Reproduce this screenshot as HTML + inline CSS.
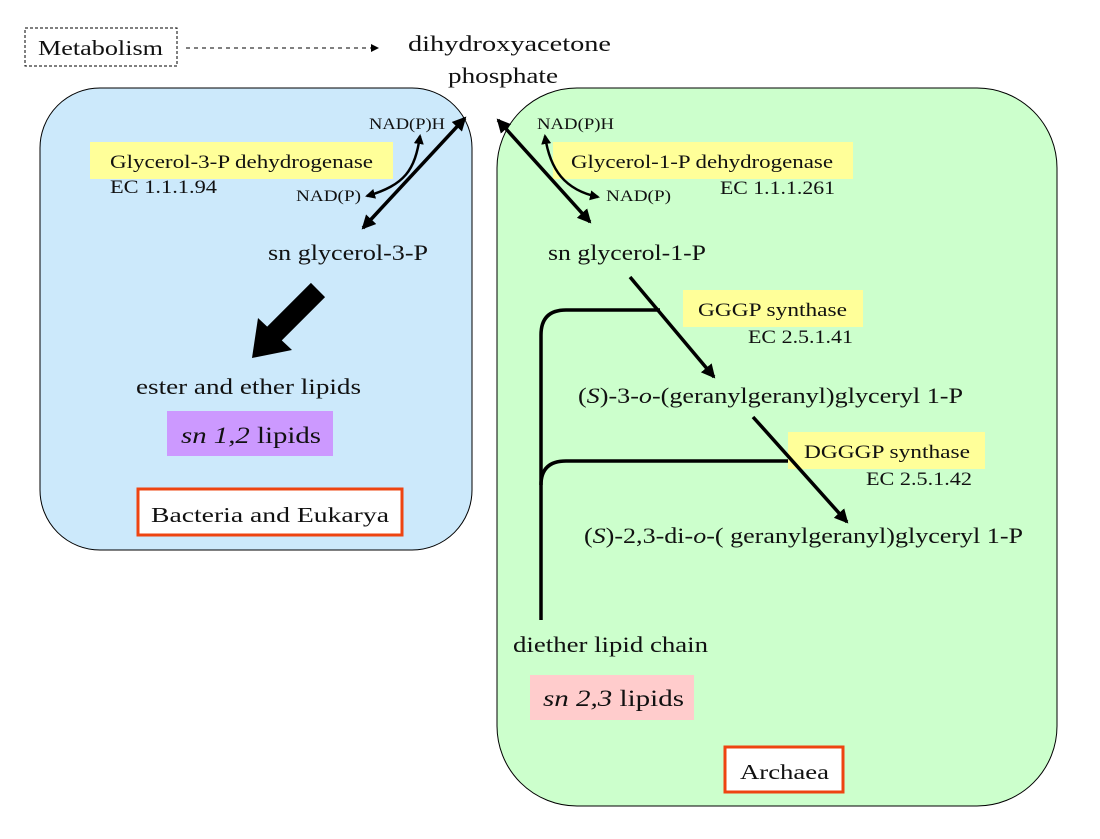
<!DOCTYPE html>
<html><head><meta charset="utf-8"><style>
body{margin:0;background:#fff}
svg{display:block}
text{font-family:"Liberation Serif",serif;fill:#111}
</style></head><body>
<svg width="1100" height="839" viewBox="0 0 1100 839" xmlns="http://www.w3.org/2000/svg">
<defs>
<marker id="a" markerWidth="10" markerHeight="10" refX="8" refY="5" orient="auto-start-reverse" markerUnits="userSpaceOnUse"><path d="M0,0 L10,5 L0,10 z" fill="#000"/></marker>
<marker id="b" markerWidth="14" markerHeight="14" refX="12" refY="7" orient="auto-start-reverse" markerUnits="userSpaceOnUse"><path d="M0,0 L14,7 L0,14 z" fill="#000"/></marker>
<marker id="s" markerWidth="8" markerHeight="8" refX="7" refY="4" orient="auto" markerUnits="userSpaceOnUse"><path d="M0,0 L8,4 L0,8 z" fill="#000"/></marker>
</defs>
<rect x="40" y="88" width="432" height="462" rx="60" fill="#cce9fb" stroke="#000" stroke-width="1"/>
<rect x="497" y="88" width="560" height="718" rx="80" fill="#ccffcc" stroke="#000" stroke-width="1"/>

<rect x="25" y="28" width="152" height="38" fill="#fff" stroke="#000" stroke-dasharray="3,2"/>
<text x="38" y="55" font-size="21" textLength="125" lengthAdjust="spacingAndGlyphs">Metabolism</text>
<line x1="186" y1="48" x2="378" y2="48" stroke="#000" stroke-dasharray="4,4" marker-end="url(#s)"/>
<text x="408" y="51" font-size="22" textLength="203" lengthAdjust="spacingAndGlyphs">dihydroxyacetone</text>
<text x="448" y="83" font-size="22" textLength="110" lengthAdjust="spacingAndGlyphs">phosphate</text>

<rect x="90" y="142" width="303" height="37" fill="#ffff99"/>
<text x="110" y="168" font-size="19" textLength="263" lengthAdjust="spacingAndGlyphs">Glycerol-3-P dehydrogenase</text>
<text x="110" y="193" font-size="19" textLength="107" lengthAdjust="spacingAndGlyphs">EC 1.1.1.94</text>
<text x="369" y="129" font-size="16" textLength="76" lengthAdjust="spacingAndGlyphs">NAD(P)H</text>
<text x="296" y="201" font-size="16" textLength="65" lengthAdjust="spacingAndGlyphs">NAD(P)</text>
<line x1="363" y1="228" x2="465" y2="118" stroke="#000" stroke-width="3.5" marker-end="url(#b)" marker-start="url(#b)"/>
<path d="M420 136 C415 170 405 185 367 196" stroke="#000" stroke-width="2.5" fill="none" marker-end="url(#a)" marker-start="url(#a)"/>
<text x="268" y="260" font-size="22" textLength="160" lengthAdjust="spacingAndGlyphs">sn glycerol-3-P</text>
<line x1="318" y1="290" x2="268" y2="340" stroke="#000" stroke-width="20"/>
<path d="M252 358 L258 318 L292 350 z" fill="#000"/>
<text x="136" y="394" font-size="22" textLength="225" lengthAdjust="spacingAndGlyphs">ester and ether lipids</text>
<rect x="167" y="411" width="166" height="45" fill="#cc99ff"/>
<text x="181" y="443" font-size="23" textLength="140" lengthAdjust="spacingAndGlyphs"><tspan font-style="italic">sn 1,2</tspan> lipids</text>
<rect x="138" y="489" width="264" height="46" fill="#fff" stroke="#ee4411" stroke-width="3"/>
<text x="151" y="522" font-size="21" textLength="238" lengthAdjust="spacingAndGlyphs">Bacteria and Eukarya</text>

<text x="537" y="129" font-size="16" textLength="77" lengthAdjust="spacingAndGlyphs">NAD(P)H</text>
<rect x="553" y="142" width="300" height="37" fill="#ffff99"/>
<text x="571" y="168" font-size="19" textLength="262" lengthAdjust="spacingAndGlyphs">Glycerol-1-P dehydrogenase</text>
<text x="720" y="194" font-size="19" textLength="115" lengthAdjust="spacingAndGlyphs">EC 1.1.1.261</text>
<text x="606" y="201" font-size="16" textLength="65" lengthAdjust="spacingAndGlyphs">NAD(P)</text>
<line x1="498" y1="120" x2="590" y2="222" stroke="#000" stroke-width="3.5" marker-end="url(#b)" marker-start="url(#b)"/>
<path d="M545 136 C550 170 565 190 598 197" stroke="#000" stroke-width="2.5" fill="none" marker-end="url(#a)" marker-start="url(#a)"/>
<text x="548" y="260" font-size="22" textLength="158" lengthAdjust="spacingAndGlyphs">sn glycerol-1-P</text>

<rect x="683" y="290" width="180" height="37" fill="#ffff99"/>
<text x="698" y="316" font-size="19" textLength="149" lengthAdjust="spacingAndGlyphs">GGGP synthase</text>
<text x="748" y="343" font-size="19" textLength="105" lengthAdjust="spacingAndGlyphs">EC 2.5.1.41</text>
<path d="M541 620 L541 335 Q541 310 566 310 L660 310" stroke="#000" stroke-width="3.5" fill="none"/>
<path d="M541 485 Q541 461 566 461 L790 461" stroke="#000" stroke-width="3.5" fill="none"/>
<line x1="630" y1="277" x2="714" y2="377" stroke="#000" stroke-width="3.5" marker-end="url(#b)"/>
<text x="578" y="403" font-size="22" textLength="385" lengthAdjust="spacingAndGlyphs">(<tspan font-style="italic">S</tspan>)-3-<tspan font-style="italic">o</tspan>-(geranylgeranyl)glyceryl 1-P</text>
<rect x="788" y="432" width="197" height="37" fill="#ffff99"/>
<text x="804" y="458" font-size="19" textLength="166" lengthAdjust="spacingAndGlyphs">DGGGP synthase</text>
<text x="866" y="485" font-size="19" textLength="106" lengthAdjust="spacingAndGlyphs">EC 2.5.1.42</text>
<line x1="753" y1="417" x2="847" y2="522" stroke="#000" stroke-width="3.5" marker-end="url(#b)"/>
<text x="584" y="543" font-size="22" textLength="439" lengthAdjust="spacingAndGlyphs">(<tspan font-style="italic">S</tspan>)-2,3-di-<tspan font-style="italic">o</tspan>-( geranylgeranyl)glyceryl 1-P</text>
<text x="513" y="652" font-size="22" textLength="195" lengthAdjust="spacingAndGlyphs">diether lipid chain</text>
<rect x="530" y="675" width="164" height="45" fill="#ffcccc"/>
<text x="543" y="706" font-size="23" textLength="141" lengthAdjust="spacingAndGlyphs"><tspan font-style="italic">sn 2,3</tspan> lipids</text>
<rect x="725" y="747" width="118" height="45" fill="#fff" stroke="#ee4411" stroke-width="3"/>
<text x="740" y="779" font-size="21" textLength="89" lengthAdjust="spacingAndGlyphs">Archaea</text>
</svg>
</body></html>
